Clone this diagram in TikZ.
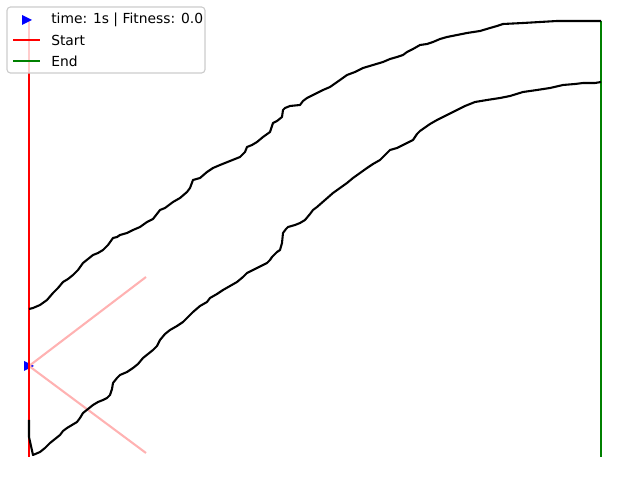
\documentclass[tikz,border=0pt]{standalone}
\usepackage{fontspec}
\setmainfont{DejaVu Sans}
\usetikzlibrary{positioning}

\begin{document}
\begin{tikzpicture}[
  x=0.01in, y=-0.01in, font=\fontsize{10}{12}\selectfont,
  track/.style={black, line width=1.5bp, line join=round},
  ray/.style={red!30, line width=1.5bp},
  startline/.style={red, line width=1.5bp},
  endline/.style={green!50!black, line width=1.5bp},
  car/.style={fill=blue},
  legendbox/.style={draw=black!20, fill=white, fill opacity=0.8, rounded corners=2.5bp, line width=0.8bp},
  legendtext/.style={anchor=west, inner sep=0pt},
]
\useasboundingbox (0,0) rectangle (640,480);
% car and its sensor rays
\coordinate (carpos) at (29,366);
\fill[car, shift={(carpos)}] (-5,-5) -- (5,0) -- (-5,5) -- cycle;
\coordinate (rayup) at (146,277);
\coordinate (raydown) at (146,453);
\draw[ray] (carpos) -- (rayup);
\draw[ray] (carpos) -- (raydown);
% start and end lines
\coordinate (starttop) at (29,21);
\coordinate (startbot) at (29,457);
\coordinate (endtop) at (601,21);
\coordinate (endbot) at (601,457);
\draw[startline] (starttop) -- (startbot);
\draw[endline] (endtop) -- (endbot);
% track borders
\draw[track] (29,309) -- (33,308) -- (40,305) -- (47,300) -- (53,293) -- (58,288)
  -- (63,282) -- (68,279) -- (73,275) -- (78,270) -- (83,263) -- (88,259) -- (93,255)
  -- (98,253) -- (103,250) -- (108,245) -- (113,238) -- (117,237) -- (120,235)
  -- (127,233) -- (133,230) -- (140,227) -- (147,222) -- (153,219) -- (160,210)
  -- (165,208) -- (173,202) -- (180,198) -- (187,192) -- (190,188) -- (193,180)
  -- (200,178) -- (207,172) -- (213,168) -- (220,165) -- (230,161) -- (240,157)
  -- (245,152) -- (247,147) -- (252,145) -- (257,142) -- (263,137) -- (270,132)
  -- (273,123) -- (277,121) -- (282,117) -- (283,110) -- (285,108) -- (290,106)
  -- (300,105) -- (303,101) -- (307,98) -- (317,93) -- (323,90) -- (330,87)
  -- (340,80) -- (347,75) -- (355,72) -- (363,68) -- (373,65) -- (383,62)
  -- (390,59) -- (397,57) -- (403,55) -- (407,52) -- (413,49) -- (420,45)
  -- (427,44) -- (433,42) -- (440,39) -- (447,37) -- (457,35) -- (467,33)
  -- (480,31) -- (490,28) -- (497,26) -- (503,24) -- (523,23) -- (540,22)
  -- (557,21) -- (601,21);
\draw[track] (29,420) -- (29,437) -- (33,455) -- (40,452) -- (45,448) -- (50,443)
  -- (55,439) -- (60,435) -- (63,431) -- (67,428) -- (72,425) -- (77,422) -- (80,418)
  -- (83,413) -- (88,409) -- (93,405) -- (98,402) -- (103,400) -- (107,398)
  -- (110,395) -- (112,389) -- (113,383) -- (117,378) -- (120,375) -- (127,372)
  -- (133,368) -- (138,364) -- (143,358) -- (148,354) -- (153,350) -- (157,346)
  -- (160,340) -- (165,334) -- (170,330) -- (177,326) -- (183,322) -- (188,317)
  -- (193,312) -- (200,306) -- (207,302) -- (210,298) -- (217,294) -- (223,290)
  -- (230,286) -- (237,282) -- (243,277) -- (247,273) -- (257,268) -- (267,263)
  -- (270,260) -- (272,257) -- (277,252) -- (280,250) -- (282,243) -- (283,233)
  -- (286,229) -- (288,227) -- (295,225) -- (300,223) -- (305,220) -- (310,214)
  -- (313,210) -- (317,207) -- (325,200) -- (333,193) -- (340,188) -- (347,183)
  -- (353,178) -- (360,173) -- (367,168) -- (373,164) -- (380,160) -- (385,155)
  -- (390,150) -- (397,148) -- (405,144) -- (413,140) -- (417,134) -- (420,131)
  -- (430,124) -- (437,120) -- (447,115) -- (457,110) -- (465,106) -- (475,102)
  -- (487,100) -- (500,98) -- (510,96) -- (523,92) -- (537,90) -- (550,88)
  -- (563,85) -- (575,84) -- (583,83) -- (595,83) -- (601,82);
% legend
\draw[legendbox] (7,7) rectangle (205,73);
\coordinate (keycar) at (27,20);
\fill[car, shift={(keycar)}] (-5,-5) -- (5,0) -- (-5,5) -- cycle;
\node[legendtext] (timetext) at (51,20) {time: 1s | Fitness: 0.0};
\coordinate (keystartl) at (13,40);
\coordinate (keystartr) at (40,40);
\draw[startline] (keystartl) -- (keystartr);
\node[legendtext] (starttext) at (51,40) {Start};
\coordinate (keyendl) at (13,61);
\coordinate (keyendr) at (40,61);
\draw[endline] (keyendl) -- (keyendr);
\node[legendtext] (endtext) at (51,61) {End};
\end{tikzpicture}
\end{document}
